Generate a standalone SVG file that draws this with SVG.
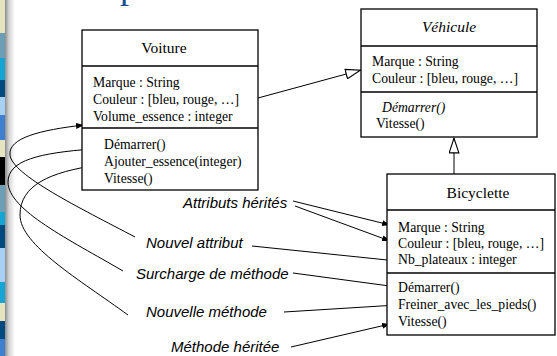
<svg xmlns="http://www.w3.org/2000/svg" width="557" height="356" viewBox="0 0 557 356">
<defs>
<linearGradient id="shadow" x1="0" y1="0" x2="1" y2="0">
<stop offset="0" stop-color="#8c8c8c"/>
<stop offset="0.4" stop-color="#d4d4d4"/>
<stop offset="1" stop-color="#ffffff"/>
</linearGradient>
<marker id="fill" viewBox="0 0 10 10" refX="10" refY="5" markerWidth="8" markerHeight="6" markerUnits="userSpaceOnUse" orient="auto" preserveAspectRatio="none">
<path d="M0,0 L10,5 L0,10 Z" fill="#000"/>
</marker>
<marker id="hollow" viewBox="0 0 16 12" refX="16" refY="6" markerWidth="16" markerHeight="11" markerUnits="userSpaceOnUse" orient="auto" preserveAspectRatio="none">
<path d="M0.7,0.7 L15.3,6 L0.7,11.3 Z" fill="#fff" stroke="#000" stroke-width="1.2"/>
</marker>
</defs>
<style>
.box{fill:#fff;stroke:#000;stroke-width:1.3}
.div{stroke:#000;stroke-width:1.3}
.t{font-family:"Liberation Serif","Times New Roman",serif;font-size:13.7px;fill:#000}
.title{font-family:"Liberation Serif","Times New Roman",serif;font-size:15.5px;fill:#000}
.lbl{font-family:"Liberation Sans",Arial,sans-serif;font-size:15px;font-style:italic;fill:#000}
.c{fill:none;stroke:#000;stroke-width:1}
.it{font-style:italic}
</style>
<rect width="557" height="356" fill="#fff"/>
<g id="stripe">
<rect x="0" y="0" width="5" height="33" fill="#e6e3c3"/>
<rect x="0" y="33" width="5" height="25" fill="#6a9fb5"/>
<rect x="0" y="58" width="5" height="22" fill="#16a4d4"/>
<rect x="0" y="80" width="5" height="17" fill="#004a7f"/>
<rect x="0" y="97" width="5" height="18" fill="#a6d0f5"/>
<rect x="0" y="115" width="5" height="25" fill="#3f7fd0"/>
<rect x="0" y="140" width="5" height="17" fill="#e6e3c3"/>
<rect x="0" y="157" width="5" height="28" fill="#000"/>
<rect x="0" y="185" width="5" height="27" fill="#6a9fb5"/>
<rect x="0" y="212" width="5" height="13" fill="#16a4d4"/>
<rect x="0" y="225" width="5" height="23" fill="#004a7f"/>
<rect x="0" y="248" width="5" height="34" fill="#a6d0f5"/>
<rect x="0" y="282" width="5" height="21" fill="#16a4d4"/>
<rect x="0" y="303" width="5" height="18" fill="#e6e3c3"/>
<rect x="0" y="321" width="5" height="18" fill="#004a7f"/>
<rect x="0" y="339" width="5" height="17" fill="#3f7fd0"/>
<rect x="5" y="0" width="10" height="356" fill="url(#shadow)"/>
</g>
<text x="120" y="-2" font-family="'Liberation Serif','Times New Roman',serif" font-size="36" fill="#1b4f8c">p</text>
<g id="connectors">
<line class="c" x1="258" y1="98" x2="361" y2="70" marker-end="url(#hollow)"/>
<line class="c" x1="454" y1="174" x2="454" y2="137.5" marker-end="url(#hollow)"/>
<path class="c" d="M135,237 C80,208 12,175 10,155 C8,138 40,130 84,125" marker-end="url(#fill)"/>
<path class="c" d="M123,271 C70,240 8,210 8,182 C8,160 40,153 92,149" marker-end="url(#fill)"/>
<path class="c" d="M128,315 C80,280 20,245 20,215 C20,185 50,172 98,165" marker-end="url(#fill)"/>
<line class="c" x1="293" y1="201" x2="390" y2="225" marker-end="url(#fill)"/>
<line class="c" x1="295" y1="206" x2="390" y2="241" marker-end="url(#fill)"/>
<line class="c" x1="252" y1="246" x2="397" y2="261" marker-end="url(#fill)"/>
<line class="c" x1="293" y1="273" x2="397" y2="287" marker-end="url(#fill)"/>
<line class="c" x1="284" y1="312" x2="397" y2="305" marker-end="url(#fill)"/>
<line class="c" x1="291" y1="347" x2="390" y2="324" marker-end="url(#fill)"/>
</g>
<g id="voiture">
<rect class="box" x="82" y="30" width="176" height="160"/>
<line class="div" x1="82" y1="66" x2="258" y2="66"/>
<line class="div" x1="82" y1="128" x2="258" y2="128"/>
<text class="title" x="164" y="53" text-anchor="middle">Voiture</text>
<text class="t" x="93" y="87">Marque : String</text>
<text class="t" x="93" y="104">Couleur : [bleu, rouge, …]</text>
<text class="t" x="93" y="121">Volume_essence : integer</text>
<text class="t" x="104" y="149">Démarrer()</text>
<text class="t" x="104" y="166">Ajouter_essence(integer)</text>
<text class="t" x="104" y="183">Vitesse()</text>
</g>
<g id="vehicule">
<rect class="box" x="361" y="9" width="176" height="128"/>
<line class="div" x1="361" y1="46" x2="537" y2="46"/>
<line class="div" x1="361" y1="92" x2="537" y2="92"/>
<text class="title it" x="449" y="32" text-anchor="middle">Véhicule</text>
<text class="t" x="372" y="66">Marque : String</text>
<text class="t" x="372" y="83">Couleur : [bleu, rouge, …]</text>
<text class="t it" x="382" y="112">Démarrer()</text>
<text class="t" x="376" y="128">Vitesse()</text>
</g>
<g id="bicyclette">
<rect class="box" x="387" y="174" width="168" height="161"/>
<line class="div" x1="387" y1="210" x2="555" y2="210"/>
<line class="div" x1="387" y1="273" x2="555" y2="273"/>
<text class="title" x="478" y="198" text-anchor="middle">Bicyclette</text>
<text class="t" x="398" y="232">Marque : String</text>
<text class="t" x="398" y="248">Couleur : [bleu, rouge, …]</text>
<text class="t" x="398" y="264">Nb_plateaux : integer</text>
<text class="t" x="398" y="292">Démarrer()</text>
<text class="t" x="398" y="309">Freiner_avec_les_pieds()</text>
<text class="t" x="398" y="326">Vitesse()</text>
</g>
<g id="labels">
<text class="lbl" x="183" y="208">Attributs hérités</text>
<text class="lbl" x="146" y="248">Nouvel attribut</text>
<text class="lbl" x="136" y="279">Surcharge de méthode</text>
<text class="lbl" x="146" y="317">Nouvelle méthode</text>
<text class="lbl" x="171" y="352">Méthode héritée</text>
</g>
</svg>
